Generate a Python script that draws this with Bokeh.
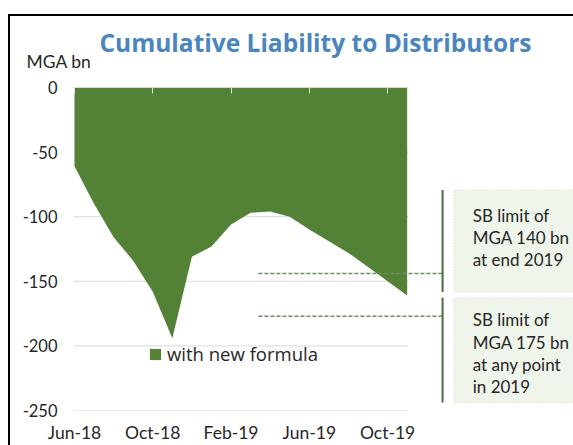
from bokeh.plotting import figure
from bokeh.models import (ColumnDataSource, FixedTicker, LinearAxis, Title,
                          Range1d, InlineStyleSheet)
from bokeh.core.properties import value
from bokeh.embed import file_html
from bokeh.resources import INLINE

# ---------------- data ----------------
months = ["Jun-18", "Jul-18", "Aug-18", "Sep-18", "Oct-18", "Nov-18",
          "Dec-18", "Jan-19", "Feb-19", "Mar-19", "Apr-19", "May-19",
          "Jun-19", "Jul-19", "Aug-19", "Sep-19", "Oct-19", "Nov-19"]
liability = [-61, -90, -116, -134, -158, -194, -131, -123, -106, -97,
             -96, -100, -110, -119, -128, -139, -150, -161]
tick_months = ["Jun-18", "Oct-18", "Feb-19", "Jun-19", "Oct-19"]
y_ticks = [0, -50, -100, -150, -200, -250]
limit_levels = [-144, -177]
box1_text = ["SB limit of", "MGA 140 bn", "at end 2019"]
box2_text = ["SB limit of", "MGA 175 bn", "at any point", "in 2019"]
title_text = "Cumulative Liability to Distributors"
unit_text = "MGA bn"
legend_text = "with new formula"

FONT = "Lato"
TXT = "#262626"
GREEN = "#538135"

xs = list(range(len(months)))
tick_pos = [months.index(m) for m in tick_months]

p = figure(width=573, height=445, output_backend="svg", toolbar_location=None,
           x_range=Range1d(-0.05, 25.5), y_range=Range1d(-250, 0),
           min_border_left=73, min_border_right=0, min_border_top=87,
           min_border_bottom=34, x_axis_location=None, y_axis_location=None)
p.outline_line_color = None
p.background_fill_color = "white"
p.border_fill_color = "white"
p.xgrid.visible = False
p.ygrid.visible = False

# gridlines limited to the data span
grid_y = [t for t in y_ticks if t != 0]
p.segment(x0=[xs[0] - 0.05] * len(grid_y), x1=[xs[-1] + 0.05] * len(grid_y),
          y0=grid_y, y1=grid_y, line_color="#d9d9d9", line_width=1)

# area
src = ColumnDataSource(dict(x=xs, y1=[0] * len(xs), y2=liability))
p.varea(x="x", y1="y1", y2="y2", source=src, fill_color=GREEN,
        legend_label=legend_text)

# annotation boxes
x_dash0, x_vert, x_box0, x_text = 9.4, 18.81, 19.38, 20.35
p.quad(left=[x_box0, x_box0], right=[40, 40], top=[-79.4, -162.8],
       bottom=[-158.2, -243.9], fill_color="#eff5ea",
       line_color="#cfe0c4", line_dash="1 2", line_width=1)
p.segment(x0=[x_dash0] * 2, x1=[x_vert] * 2, y0=limit_levels, y1=limit_levels,
          line_color="#6f8f5e", line_width=1.5, line_dash="4 2")
p.segment(x0=[x_vert, x_vert], x1=[x_vert, x_vert], y0=[-79.4, -162.8],
          y1=[-158.2, -243.9], line_color="#4e6b3c", line_width=2)

step = -17.3
p.text(x=[x_text] * len(box1_text),
       y=[-98.7 + i * step for i in range(len(box1_text))], text=box1_text,
       text_font=value(FONT), text_font_size="17px", text_color=TXT,
       text_baseline="middle", text_align="left")
p.text(x=[x_text] * len(box2_text),
       y=[-179.8 + i * step for i in range(len(box2_text))], text=box2_text,
       text_font=value(FONT), text_font_size="17px", text_color=TXT,
       text_baseline="middle", text_align="left")

# axes
yax = LinearAxis(ticker=FixedTicker(ticks=y_ticks),
                 major_label_overrides={t: str(t) for t in y_ticks})
yax.axis_line_color = None
yax.major_tick_line_color = None
yax.minor_tick_line_color = None
yax.major_label_standoff = 10
yax.major_label_text_font = FONT
yax.major_label_text_font_size = "16.5px"
yax.major_label_text_color = TXT
p.add_layout(yax, "left")

xax = LinearAxis(ticker=FixedTicker(ticks=tick_pos),
                 major_label_overrides={t: m for t, m in zip(tick_pos, tick_months)})
xax.axis_line_color = None
xax.major_tick_line_color = None
xax.minor_tick_line_color = None
xax.major_label_standoff = 5
xax.major_label_text_font = FONT
xax.major_label_text_font_size = "17.5px"
xax.major_label_text_color = TXT
p.add_layout(xax, "below")

top = LinearAxis(ticker=FixedTicker(ticks=tick_pos),
                 bounds=(xs[0] - 0.05, xs[-1] + 0.05),
                 major_label_overrides={t: "" for t in tick_pos})
top.axis_line_color = "#d9d9d9"
top.major_tick_line_color = "#e0e0e0"
top.major_tick_in = 6
top.major_tick_out = 0
top.minor_tick_line_color = None
top.major_label_standoff = 0
p.add_layout(top, "above")

# unit label and title
p.add_layout(Title(text=unit_text, align="left", offset=-47, standoff=32,
                   text_font=FONT, text_font_size="17.5px",
                   text_font_style="normal", text_color=TXT), "above")
p.add_layout(Title(text=title_text, align="left", offset=26, standoff=-53,
                   text_font="Open Sans", text_font_size="24.5px",
                   text_font_style="bold", text_color="#4a85bf"), "above")

# frame border of the chart
p.stylesheets = [InlineStyleSheet(css=(
    ":host::after{content:'';position:absolute;left:8px;top:14px;right:0;"
    "bottom:0;border-left:2px solid #000;border-top:2px solid #000;"
    "pointer-events:none;z-index:5;}"))]

# legend
lg = p.legend[0]
lg.location = (75, 44)
lg.border_line_color = None
lg.background_fill_alpha = 0
lg.padding = 0
lg.margin = 0
lg.glyph_width = 14
lg.glyph_height = 14
lg.label_standoff = 5
lg.label_text_font = "Open Sans"
lg.label_text_font_size = "18.5px"
lg.label_text_color = TXT

open("out.html", "w").write(file_html(p, INLINE))
